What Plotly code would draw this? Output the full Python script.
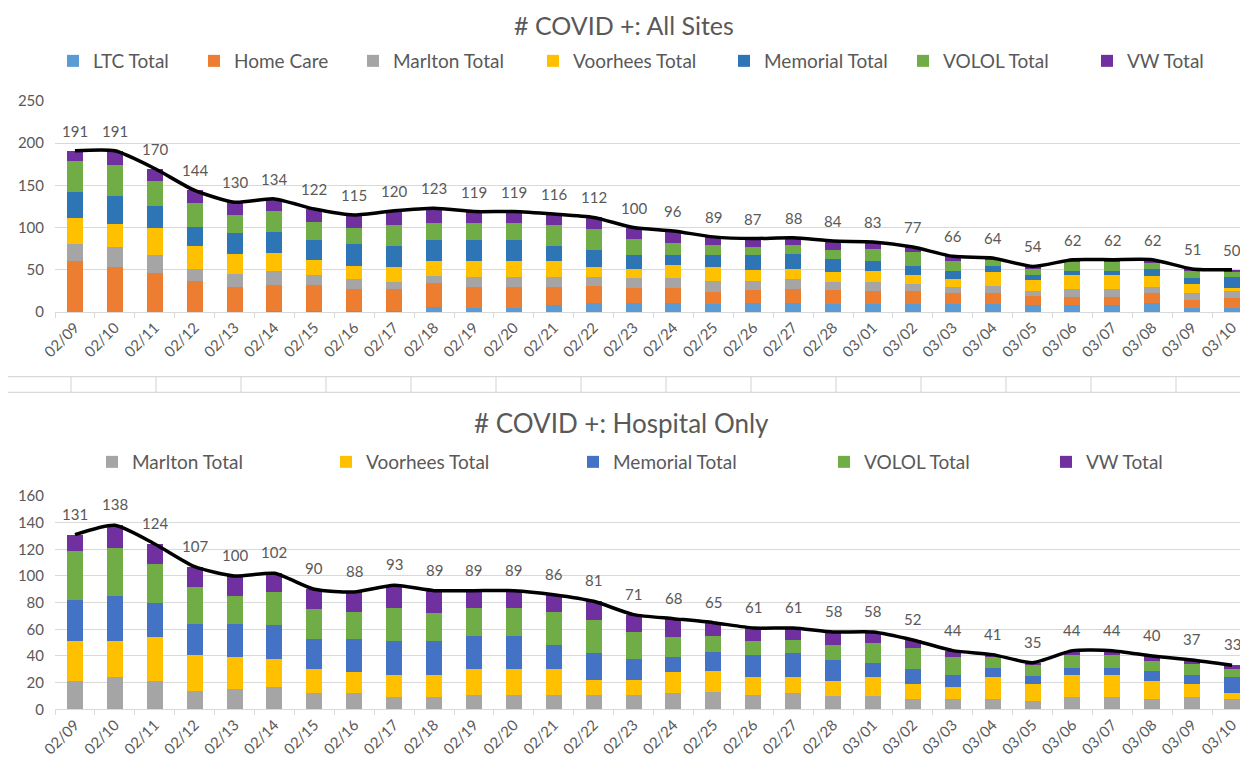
import plotly.graph_objects as go

# ---------------- data ----------------
dates = ["02/09", "02/10", "02/11", "02/12", "02/13", "02/14", "02/15", "02/16", "02/17", "02/18",
         "02/19", "02/20", "02/21", "02/22", "02/23", "02/24", "02/25", "02/26", "02/27", "02/28",
         "03/01", "03/02", "03/03", "03/04", "03/05", "03/06", "03/07", "03/08", "03/09", "03/10"]

ltc_total = [0, 0, 0, 0, 0, 1, 1, 1, 1, 6, 5, 5, 8, 11, 11, 11, 9, 11, 11, 10,
             10, 10, 10, 10, 8, 8, 8, 11, 5, 5]
home_care = [60, 53, 46, 37, 30, 31, 31, 26, 26, 28, 25, 25, 22, 20, 18, 17, 15, 15, 16, 16,
             15, 15, 12, 13, 11, 10, 10, 11, 9, 12]
marlton = [21, 24, 21, 14, 15, 17, 12, 12, 9, 9, 11, 11, 11, 11, 11, 12, 13, 11, 12, 10,
           10, 8, 8, 8, 6, 9, 9, 8, 9, 8]
voorhees = [30, 27, 33, 27, 24, 21, 18, 16, 17, 17, 19, 19, 19, 11, 11, 16, 16, 13, 12, 11,
            14, 11, 9, 16, 13, 17, 17, 13, 10, 4]
memorial = [31, 34, 26, 23, 25, 25, 23, 25, 25, 25, 25, 25, 18, 20, 16, 11, 14, 17, 18, 16,
            11, 11, 9, 7, 6, 5, 5, 8, 7, 12]
volol = [37, 36, 29, 28, 21, 25, 22, 20, 25, 21, 21, 21, 25, 25, 20, 15, 12, 10, 10, 11,
         15, 16, 13, 8, 8, 10, 10, 7, 8, 6]
vw = [12, 17, 15, 15, 15, 14, 15, 15, 17, 17, 13, 13, 13, 14, 13, 14, 10, 10, 9, 10,
      8, 6, 5, 2, 2, 3, 3, 4, 3, 3]

all_sites_total = [191, 191, 170, 144, 130, 134, 122, 115, 120, 123, 119, 119, 116, 112, 100, 96, 89, 87, 88, 84,
                   83, 77, 66, 64, 54, 62, 62, 62, 51, 50]
hospital_total = [131, 138, 124, 107, 100, 102, 90, 88, 93, 89, 89, 89, 86, 81, 71, 68, 65, 61, 61, 58,
                  58, 52, 44, 41, 35, 44, 44, 40, 37, 33]

top_series = [("LTC Total", ltc_total), ("Home Care", home_care), ("Marlton Total", marlton),
              ("Voorhees Total", voorhees), ("Memorial Total", memorial), ("VOLOL Total", volol),
              ("VW Total", vw)]
bottom_series = [("Marlton Total", marlton), ("Voorhees Total", voorhees), ("Memorial Total", memorial),
                 ("VOLOL Total", volol), ("VW Total", vw)]

# ---------------- styling ----------------
W, H = 1248, 767
PAGE_OFF = 8  # browser body margin
FONT = "Lato"
GREY_TXT = "#595959"
GRID = "#D9D9D9"
top_colors = ["#5B9BD5", "#ED7D31", "#A5A5A5", "#FFC000", "#2E75B6", "#70AD47", "#7030A0"]
bottom_colors = ["#A5A5A5", "#FFC000", "#4472C4", "#70AD47", "#7030A0"]

# legend marker centres (screen pixels)
top_leg_x = [74, 215, 374, 554, 745, 924, 1108]
top_leg_y = 61
bot_leg_x = [113, 347, 594, 845, 1067]
bot_leg_y = 462
LEG_OFFSET = 21  # legend box left edge -> marker centre


def fx(px):
    return (px - PAGE_OFF) / W


def fy(py):
    return 1 - (py - PAGE_OFF) / H


fig = go.Figure()
legend_layouts = {}
li = 0


def legend_name(i):
    return "legend" if i == 0 else f"legend{i + 1}"


for (name, vals), col, lx in zip(top_series, top_colors, top_leg_x):
    ln = legend_name(li)
    fig.add_trace(go.Bar(x=dates, y=vals, name=name, marker=dict(color=col, line=dict(width=0)),
                         xaxis="x", yaxis="y", legend=ln))
    legend_layouts[ln] = dict(x=fx(lx - LEG_OFFSET), y=fy(top_leg_y))
    li += 1

fig.add_trace(go.Scatter(x=dates, y=all_sites_total, mode="lines",
                         line=dict(color="black", width=3.5, shape="spline", smoothing=0.6),
                         showlegend=False, xaxis="x", yaxis="y", hoverinfo="skip"))

for (name, vals), col, lx in zip(bottom_series, bottom_colors, bot_leg_x):
    ln = legend_name(li)
    fig.add_trace(go.Bar(x=dates, y=vals, name=name, marker=dict(color=col, line=dict(width=0)),
                         xaxis="x2", yaxis="y2", legend=ln))
    legend_layouts[ln] = dict(x=fx(lx - LEG_OFFSET), y=fy(bot_leg_y))
    li += 1

fig.add_trace(go.Scatter(x=dates, y=hospital_total, mode="lines",
                         line=dict(color="black", width=3.5, shape="spline", smoothing=0.6),
                         showlegend=False, xaxis="x2", yaxis="y2", hoverinfo="skip"))

annotations = []
for d, v in zip(dates, all_sites_total):
    annotations.append(dict(x=d, y=v, xref="x", yref="y", text=str(v), showarrow=False, yshift=20,
                            font=dict(family=FONT, size=15, color=GREY_TXT)))
for d, v in zip(dates, hospital_total):
    annotations.append(dict(x=d, y=v, xref="x2", yref="y2", text=str(v), showarrow=False, yshift=21,
                            font=dict(family=FONT, size=15, color=GREY_TXT)))

annotations.append(dict(x=fx(624), y=1.0, xref="paper", yref="paper", text="# COVID +: All Sites",
                        showarrow=False, font=dict(family=FONT, size=25, color=GREY_TXT), yanchor="top"))
annotations.append(dict(x=fx(621), y=fy(423), xref="paper", yref="paper", text="# COVID +: Hospital Only",
                        showarrow=False, font=dict(family=FONT, size=26, color=GREY_TXT), yanchor="middle"))

# separator strip between charts
shapes = []
strip_top, strip_bot = 376.7, 392.3
for yy in (strip_top, strip_bot):
    shapes.append(dict(type="line", xref="paper", yref="paper", x0=fx(7), x1=fx(1250), y0=fy(yy), y1=fy(yy),
                       line=dict(color=GRID, width=1.2)))
for k in range(14):
    xx = 71 + 85 * k
    shapes.append(dict(type="line", xref="paper", yref="paper", x0=fx(xx), x1=fx(xx), y0=fy(strip_top),
                       y1=fy(strip_bot), line=dict(color=GRID, width=1.2)))

xaxis_common = dict(type="category", range=[-0.5, 29.5], tickangle=-45, showgrid=False, automargin=False,
                    showline=True, linecolor=GRID, linewidth=1, ticks="outside", tickson="boundaries",
                    ticklen=5, tickcolor=GRID, tickfont=dict(family=FONT, size=15, color=GREY_TXT),
                    domain=[fx(55), fx(1252)], fixedrange=True)
yaxis_common = dict(showgrid=True, gridcolor=GRID, gridwidth=1, zeroline=False, showline=False, automargin=False,
                    tickfont=dict(family=FONT, size=15, color=GREY_TXT), ticks="", ticklabelstandoff=10)

layout = dict(
    width=W, height=H, margin=dict(l=0, r=0, t=0, b=0, autoexpand=False),
    paper_bgcolor="white", plot_bgcolor="white",
    barmode="stack", bargap=0.6,
    font=dict(family=FONT, color=GREY_TXT),
    xaxis=dict(**xaxis_common, anchor="y"),
    yaxis=dict(**yaxis_common, domain=[fy(312), fy(101)], range=[0, 250], dtick=50, anchor="x"),
    xaxis2=dict(**xaxis_common, anchor="y2"),
    yaxis2=dict(**yaxis_common, domain=[fy(709.3), fy(496)], range=[0, 160], dtick=20, anchor="x2"),
    annotations=annotations,
    shapes=shapes,
)
for ln, lo in legend_layouts.items():
    layout[ln] = dict(**lo, xanchor="left", yanchor="middle", orientation="h",
                      bgcolor="rgba(0,0,0,0)", borderwidth=0,
                      font=dict(family=FONT, size=19, color=GREY_TXT), itemwidth=30, itemclick=False)

fig.update_layout(**layout)
fig.write_html("out.html")
